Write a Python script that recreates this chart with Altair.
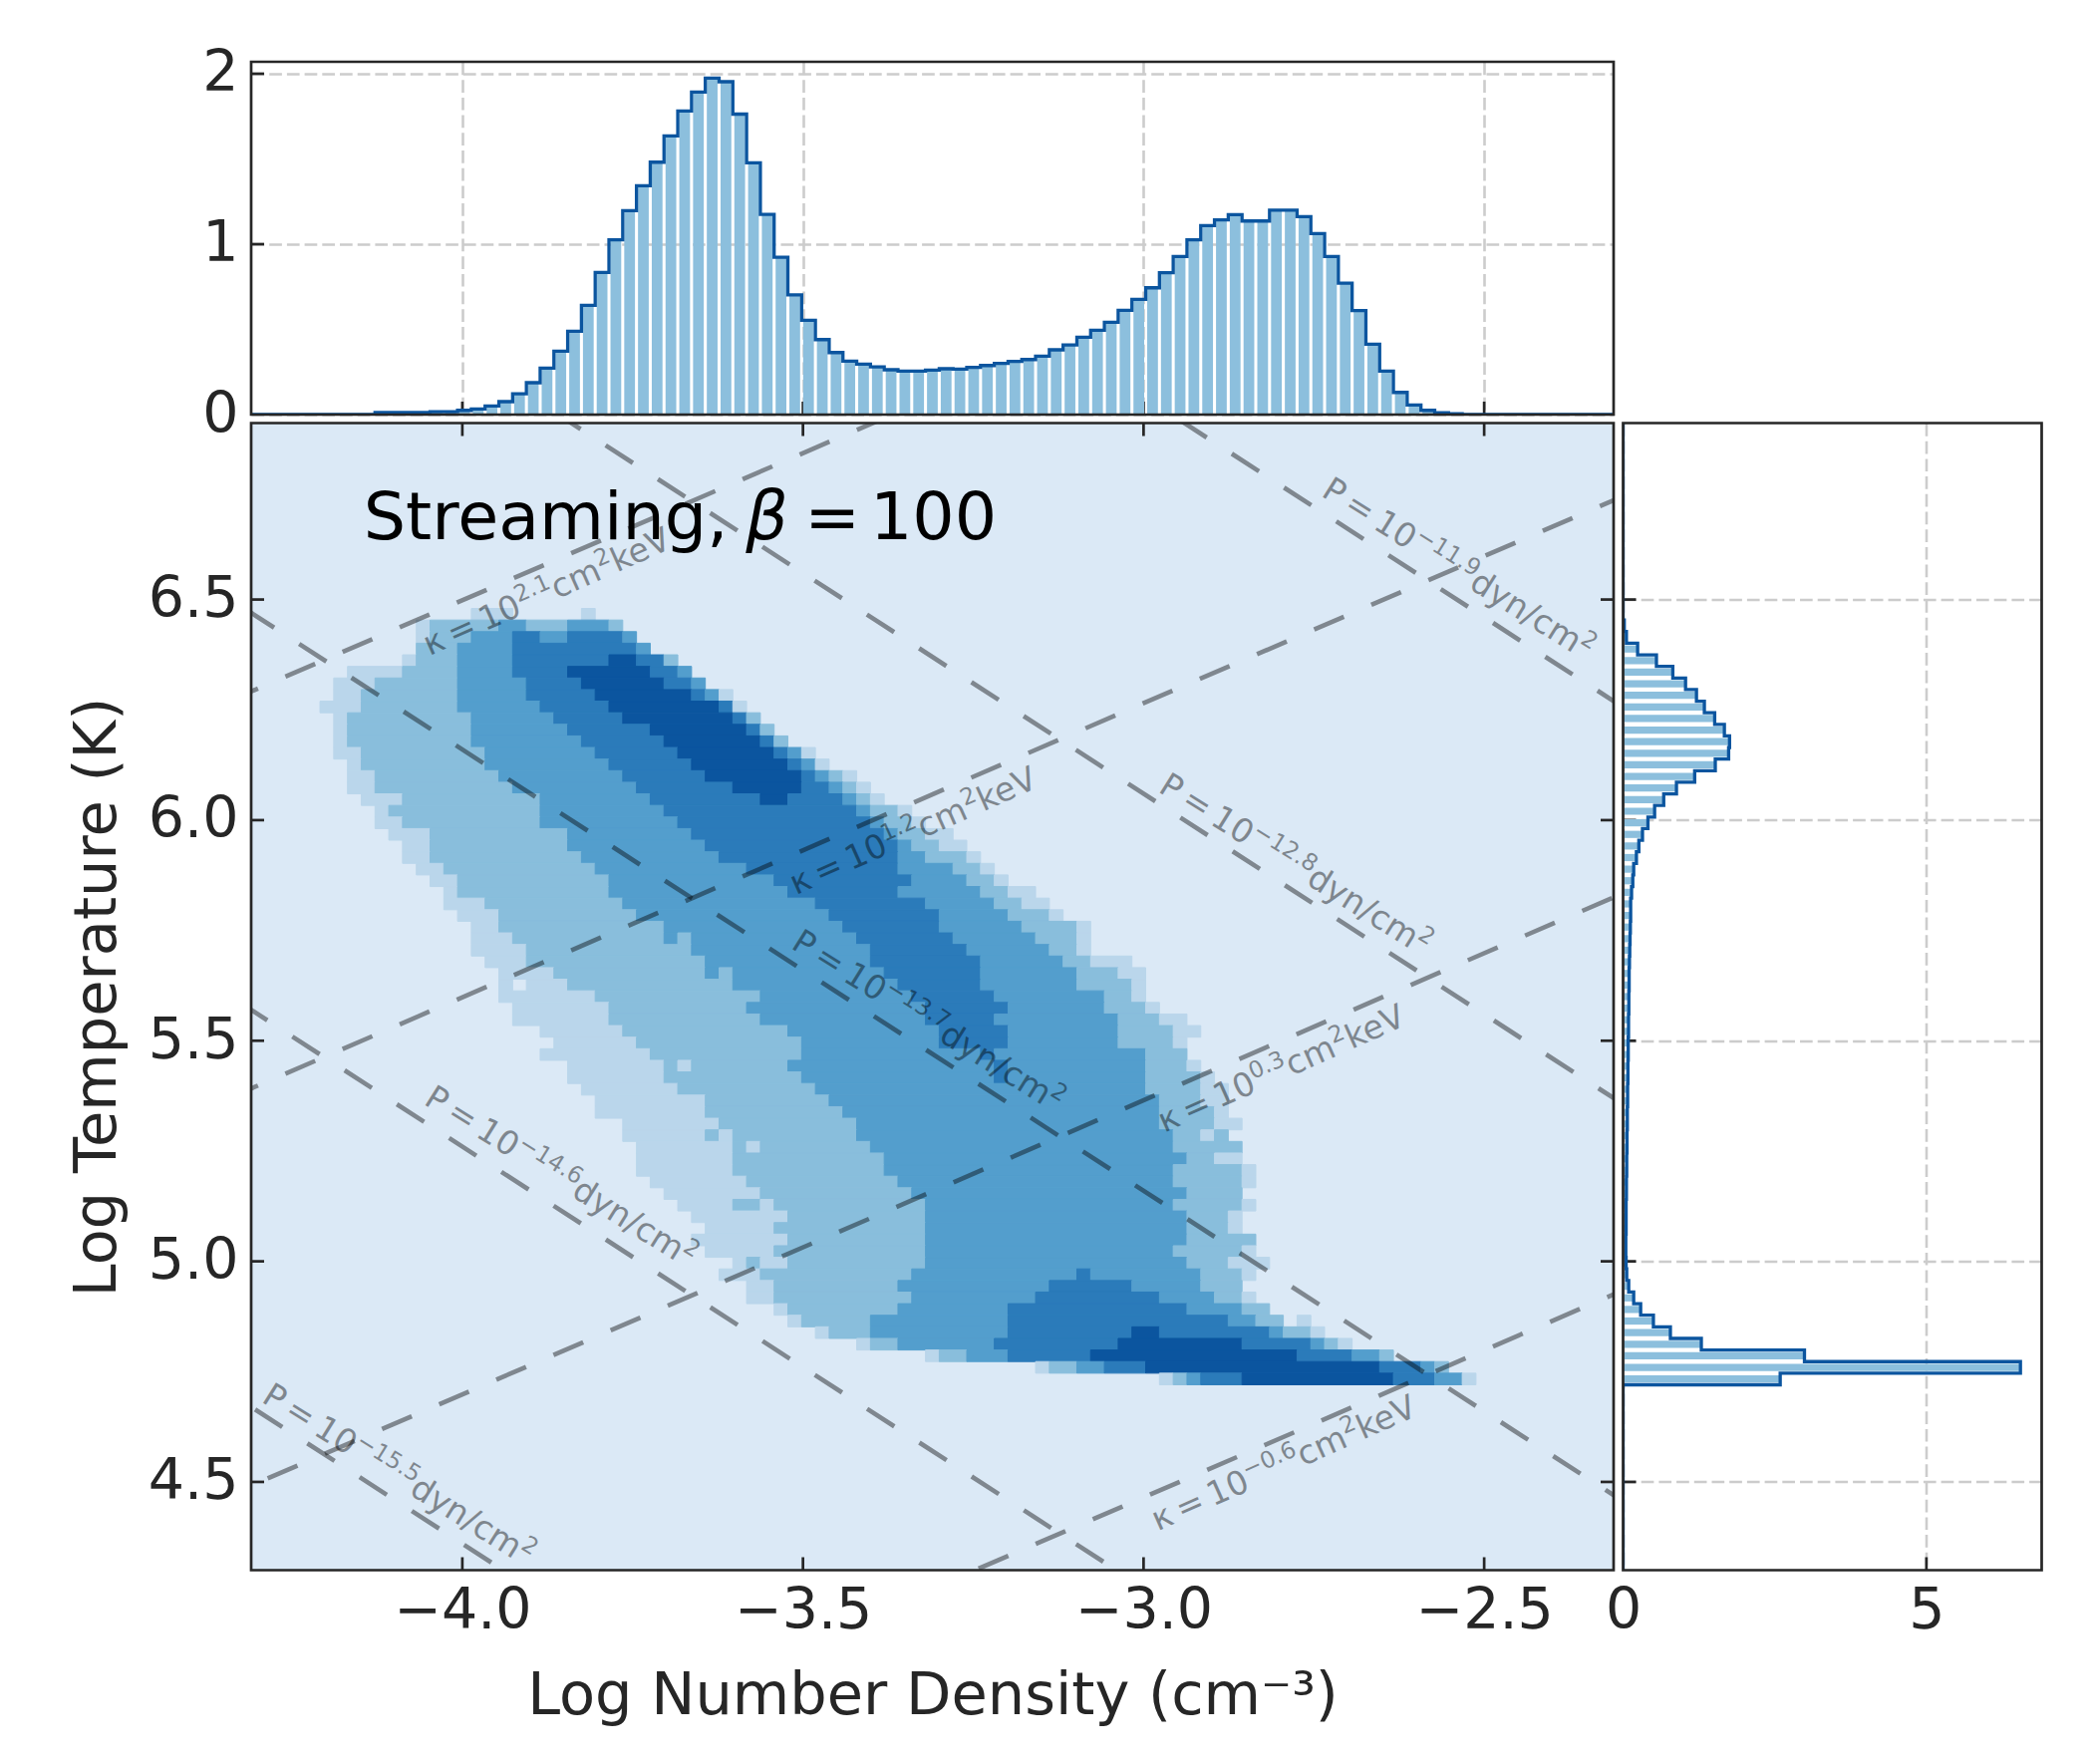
import altair as alt
import pandas as pd
import math

# ---- axis limits (log n, log T), histogram bins = 99 cells per axis
x_lim = [-4.31, -2.31]
y_lim = [4.30, 6.90]
n_bins = 99
level_colors = ["#dbe9f6", "#bad6eb", "#89bedc", "#539ecd", "#2b7bba", "#0b559f"]

# ---- 2D histogram, colour levels per row: row -> (first column, level) transitions
phase_rows = {
    16: [(16,1),(19,0),(24,1),(25,0)],
    17: [(12,1),(13,2),(18,3),(20,2),(23,3),(26,2),(27,0)],
    18: [(12,1),(13,2),(16,3),(19,4),(21,3),(23,4),(27,3),(28,0)],
    19: [(12,2),(15,3),(19,4),(28,3),(29,0)],
    20: [(11,1),(12,2),(15,3),(19,4),(26,5),(28,4),(30,2),(31,0)],
    21: [(7,1),(11,2),(15,3),(19,4),(23,5),(29,4),(31,3),(32,0)],
    22: [(6,1),(9,2),(15,3),(20,4),(24,5),(30,4),(32,3),(33,0)],
    23: [(6,1),(8,2),(15,3),(20,4),(25,5),(32,4),(33,3),(34,1),(35,0)],
    24: [(5,1),(8,2),(15,3),(21,4),(26,5),(34,4),(35,1),(36,0)],
    25: [(6,1),(7,2),(16,3),(22,4),(27,5),(35,4),(36,2),(37,0)],
    26: [(6,1),(7,2),(16,3),(23,4),(29,5),(36,4),(37,2),(38,0)],
    27: [(6,1),(7,2),(16,3),(24,4),(30,5),(37,4),(38,2),(39,0)],
    28: [(6,1),(8,2),(17,3),(25,4),(31,5),(38,4),(39,3),(40,1),(41,0)],
    29: [(7,1),(8,2),(17,3),(26,4),(32,5),(39,4),(40,3),(41,1),(42,0)],
    30: [(7,1),(9,2),(18,3),(27,4),(33,5),(40,4),(41,3),(42,2),(43,1),(44,0)],
    31: [(7,1),(9,2),(19,3),(28,4),(35,5),(40,4),(42,3),(43,2),(44,1),(45,0)],
    32: [(8,1),(11,2),(21,3),(29,4),(37,5),(39,4),(43,3),(44,2),(45,1),(46,0)],
    33: [(9,1),(10,2),(21,3),(30,4),(44,3),(45,2),(47,1),(48,0)],
    34: [(9,1),(11,2),(21,3),(31,4),(45,3),(46,2),(48,1),(49,0)],
    35: [(10,1),(13,2),(23,3),(32,4),(46,3),(47,2),(49,1),(51,0)],
    36: [(11,1),(13,2),(23,3),(33,4),(47,3),(48,2),(50,1),(52,0)],
    37: [(11,1),(13,2),(24,3),(34,4),(47,3),(49,2),(52,1),(53,0)],
    38: [(12,1),(14,2),(25,3),(36,4),(47,3),(51,2),(53,1),(54,0)],
    39: [(13,1),(15,2),(26,3),(38,4),(48,3),(52,2),(54,1),(55,0)],
    40: [(14,1),(15,2),(26,3),(39,4),(47,3),(53,2),(55,1),(57,0)],
    41: [(14,1),(17,2),(27,3),(41,4),(49,3),(54,2),(56,1),(58,0)],
    42: [(15,1),(18,2),(28,3),(42,4),(50,3),(55,2),(58,1),(59,0)],
    43: [(16,1),(18,2),(30,3),(43,4),(50,3),(56,2),(60,1),(61,0)],
    44: [(16,1),(19,2),(30,3),(31,2),(32,3),(44,4),(51,3),(57,2),(60,1),(61,0)],
    45: [(16,1),(20,2),(32,3),(45,4),(52,3),(58,2),(60,1),(61,0)],
    46: [(17,1),(20,2),(33,3),(45,4),(53,3),(59,2),(61,1),(64,0)],
    47: [(18,1),(22,2),(33,3),(34,2),(35,3),(46,4),(53,3),(60,2),(63,1),(65,0)],
    48: [(18,1),(19,0),(20,1),(23,2),(35,3),(47,4),(53,3),(60,2),(64,1),(65,0)],
    49: [(18,1),(25,2),(37,3),(48,4),(54,3),(62,2),(64,1),(65,0)],
    50: [(19,1),(26,2),(36,3),(49,4),(55,3),(62,2),(65,1),(66,0)],
    51: [(19,1),(26,2),(37,3),(49,4),(54,3),(63,2),(66,1),(68,0)],
    52: [(21,1),(27,2),(39,3),(50,4),(55,3),(63,2),(67,1),(69,0)],
    53: [(22,1),(28,2),(40,3),(50,4),(55,3),(63,2),(67,1),(68,0)],
    54: [(21,1),(29,2),(40,3),(53,4),(54,3),(65,2),(68,0)],
    55: [(23,1),(30,2),(31,1),(32,2),(39,3),(54,4),(55,3),(65,2),(68,1),(69,0)],
    56: [(23,1),(30,2),(40,3),(54,4),(55,3),(65,2),(69,1),(70,0)],
    57: [(24,1),(31,2),(41,3),(65,2),(69,1),(71,0)],
    58: [(25,1),(33,2),(42,3),(66,2),(69,1),(71,0)],
    59: [(25,1),(33,2),(43,3),(66,2),(70,1),(71,0)],
    60: [(27,1),(34,2),(44,3),(66,2),(70,1),(72,0)],
    61: [(27,1),(33,2),(34,1),(35,2),(44,3),(67,2),(69,1),(70,2),(71,0)],
    62: [(28,1),(35,2),(36,1),(37,2),(45,3),(67,2),(72,0)],
    63: [(28,1),(35,2),(46,3),(68,2),(70,1),(72,0)],
    64: [(28,1),(35,2),(46,3),(67,2),(72,1),(73,0)],
    65: [(29,1),(36,2),(47,3),(67,2),(72,1),(73,0)],
    66: [(30,1),(37,2),(48,3),(68,2),(72,0)],
    67: [(31,1),(35,2),(37,1),(38,2),(49,3),(67,2),(72,1),(73,0)],
    68: [(32,1),(39,2),(49,3),(68,2),(71,1),(72,0)],
    69: [(33,1),(38,2),(49,3),(68,2),(71,1),(72,0)],
    70: [(32,1),(39,2),(49,3),(68,2),(73,0)],
    71: [(33,1),(38,2),(49,3),(67,2),(72,1),(73,0)],
    72: [(35,1),(36,2),(37,1),(39,2),(49,3),(68,2),(71,1),(74,0)],
    73: [(34,1),(37,2),(48,3),(60,4),(61,3),(69,2),(72,1),(73,0)],
    74: [(36,1),(38,2),(47,3),(58,4),(64,3),(69,2),(72,0)],
    75: [(36,1),(38,2),(48,3),(57,4),(66,3),(70,2),(72,1),(73,0)],
    76: [(38,1),(39,2),(47,3),(55,4),(68,3),(72,2),(74,0)],
    77: [(39,1),(40,2),(45,3),(55,4),(71,3),(73,2),(75,0),(76,1),(77,0)],
    78: [(41,1),(42,2),(45,3),(55,4),(64,5),(66,4),(74,3),(75,2),(77,1),(78,0)],
    79: [(44,1),(45,2),(47,3),(54,4),(63,5),(72,4),(77,3),(78,2),(79,1),(80,0)],
    80: [(49,1),(50,2),(52,3),(55,4),(61,5),(76,4),(80,3),(82,2),(83,0)],
    81: [(57,1),(58,2),(60,3),(62,4),(65,5),(82,4),(85,3),(86,2),(87,0)],
    82: [(66,1),(67,2),(68,3),(69,4),(72,5),(83,4),(86,3),(88,1),(89,0)],
}

# ---- density PDF over log n, one value per x bin (top panel)
pdf_n = [0.0,0.0,0.0,0.0,0.0,0.0,0.0,0.0,0.0,0.012,0.012,0.012,0.012,0.017,0.017,0.025,0.033,0.05,0.076,0.122,
         0.187,0.273,0.372,0.489,0.641,0.834,1.025,1.197,1.343,1.481,1.635,1.781,1.892,1.974,1.953,1.763,1.477,1.175,0.923,0.703,
         0.553,0.44,0.364,0.314,0.296,0.28,0.263,0.255,0.255,0.261,0.269,0.267,0.277,0.288,0.30,0.312,0.323,0.343,0.38,0.409,
         0.454,0.495,0.542,0.612,0.676,0.744,0.832,0.928,1.025,1.109,1.142,1.173,1.136,1.136,1.2,1.2,1.161,1.062,0.928,0.771,
         0.61,0.413,0.255,0.13,0.056,0.025,0.011,0.005,0.0,0.0,0.0,0.0,0.0,0.0,0.0,0.0,0.0,0.0,0.0]

# ---- temperature PDF: row (from the top) -> value (right panel)
pdf_T = [0.0]*17 + [0.02,0.055,0.24,0.55,0.82,1.03,1.21,1.34,1.51,1.67,1.755,1.74,1.52,1.18,0.88,0.67,0.52,0.41,0.32,
         0.26,0.22,0.175,0.16,0.14,0.125,0.125,0.12,0.115,0.11,0.105,0.10,0.10,0.095,0.095,0.09,0.09,0.085,0.085,0.08,0.08,
         0.075,0.075,0.07,0.07,0.065,0.065,0.06,0.06,0.055,0.055,0.05,0.05,0.05,0.045,0.045,0.05,0.06,0.093,0.175,0.29,0.5,
         0.78,1.29,2.99,6.55,2.59] + [0.0]*16

# ---- reference lines: line exponents, and where a dash of each starts (log n)
kappa_exp = [2.1, 1.2, 0.3, -0.6]
kappa_dash_n = [-4.1758, -4.1758, -3.7823, -2.6549]
press_exp = [-11.9, -12.8, -13.7, -14.6, -15.5]
press_dash_n = [-3.1006, -2.9459, -4.1628, -3.6359, -4.1508]

# ---- rotated labels: start of the baseline (log n, log T), pieces
kappa_labels = [("2.1", -4.0483, 6.372), ("1.2", -3.5106, 5.830), ("0.3", -2.970, 5.291), ("−0.6", -2.9795, 4.388)]
press_labels = [("−11.9", -2.741, 6.736), ("−12.8", -2.980, 6.066), ("−13.7", -3.5193, 5.711), ("−14.6", -4.0584, 5.358), ("−15.5", -4.2965, 4.683)]
note_text = ["Streaming,", "β", "=", "100"]
note_n = [-4.145, -3.584, -3.4978, -3.4016]
note_style = ["normal", "italic", "normal", "normal"]

W_MAIN, H_MAIN = 1367, 1151
H_TOP, W_RIGHT = 354, 420
TICK = 13
INK = "#262626"
FONT = "DejaVu Sans"
binw = (x_lim[1] - x_lim[0]) / n_bins
binh = (y_lim[1] - y_lim[0]) / n_bins

# build the tables
cells = []
for r, runs in phase_rows.items():
    for (c0, lvl), (c1, _) in zip(runs[:-1], runs[1:]):
        if lvl > 0:
            cells.append(dict(x0=x_lim[0] + c0 * binw, x1=x_lim[0] + c1 * binw,
                              y0=y_lim[1] - r * binh, y1=y_lim[1] - (r + 1) * binh, level=lvl))
cells = pd.DataFrame(cells)

x_bars = pd.DataFrame([dict(x0=x_lim[0] + (i + .11) * binw, x1=x_lim[0] + (i + .89) * binw, v=v, b=0.0)
                       for i, v in enumerate(pdf_n) if v > 0])
stair_x = []
for i, v in enumerate(pdf_n):
    stair_x += [dict(x=x_lim[0] + i * binw, v=v), dict(x=x_lim[0] + (i + 1) * binw, v=v)]
stair_x = pd.DataFrame(stair_x).reset_index().rename(columns={"index": "i"})

y_bars = pd.DataFrame([dict(y0=y_lim[1] - (i + .19) * binh, y1=y_lim[1] - (i + .81) * binh, v=v, b=0.0)
                       for i, v in enumerate(pdf_T) if v > 0])
stair_y = []
for i, v in enumerate(pdf_T):
    stair_y += [dict(y=y_lim[1] - i * binh, v=v), dict(y=y_lim[1] - (i + 1) * binh, v=v)]
stair_y = pd.DataFrame(stair_y).reset_index().rename(columns={"index": "i"})

PX_X = W_MAIN / (x_lim[1] - x_lim[0])
PX_Y = H_MAIN / (y_lim[1] - y_lim[0])
PERIOD = 62.46
guide = []
for k, (e, d) in enumerate(zip(kappa_exp, kappa_dash_n)):
    c = e + 7.065
    step = PERIOD * math.cos(math.atan(2 / 3 * PX_Y / PX_X)) / PX_X
    for j, n in enumerate([d - 30 * step, d + 30 * step]):
        guide.append(dict(line=f"k{k}", j=j, n=n, T=c + 2 / 3 * n))
for k, (e, d) in enumerate(zip(press_exp, press_dash_n)):
    c = e + 15.86
    step = PERIOD * math.cos(math.atan(PX_Y / PX_X)) / PX_X
    for j, n in enumerate([d - 30 * step, d + 30 * step]):
        guide.append(dict(line=f"p{k}", j=j, n=n, T=c - n))
guide = pd.DataFrame(guide)

FS = 33.3
def pieces(n, T, angle_deg, parts):
    a = math.radians(angle_deg)
    out, along = [], 0.0
    for text, scale, raise_em, width_em in parts:
        px = along * math.cos(a) + raise_em * FS * math.sin(a)
        py = along * math.sin(a) - raise_em * FS * math.cos(a)
        out.append(dict(n=n + px / PX_X, T=T - py / PX_Y, text=text, size=FS * scale, angle=angle_deg % 360))
        along += width_em * FS
    return out

def sup_w(s):
    return sum(.838 if ch == "−" else .318 if ch == "." else .636 for ch in s) * .7

label_rows = []
for e, n, T in kappa_labels:
    label_rows += pieces(n, T, -24, [("κ\u2009=\u200910", 1, 0, 3.1), (e, .7, .38, sup_w(e)), ("cm", 1, 0, 1.524),
                                     ("2", .7, .38, .445), ("keV", 1, 0, 1.878)])
for e, n, T in press_labels:
    label_rows += pieces(n, T, 32, [("P\u2009=\u200910", 1, 0, 3.11), (e, .7, .38, sup_w(e)), ("dyn/cm", 1, 0, 3.72),
                                    ("2", .7, .38, .445)])
label_rows = pd.DataFrame(label_rows)

one = pd.DataFrame({"a": [1]})
x_scale = alt.Scale(domain=x_lim, nice=False, zero=False)
y_scale = alt.Scale(domain=y_lim, nice=False, zero=False)
v_scale = alt.Scale(domain=[0, 2.07], nice=False, zero=False)
t_scale = alt.Scale(domain=[0, 6.9], nice=False, zero=False)
x_ticks = [-4.0, -3.5, -3.0, -2.5]
y_ticks = [4.5, 5.0, 5.5, 6.0, 6.5]
GRID = dict(grid=True, gridColor="#cccccc", gridDash=[12.7, 5], gridWidth=2.6)
TXT = dict(labelFont=FONT, labelFontSize=57, labelColor=INK, titleFont=FONT, titleFontSize=59,
           titleColor=INK, titleFontWeight="normal", ticks=False, domain=False,
           labelFlush=False, labelOverlap=False)

top_xaxis = alt.Axis(values=x_ticks, labels=False, title=None, ticks=False, domain=False, **GRID)
top_yaxis = alt.Axis(values=[0, 1, 2], tickCount=12, tickMinStep=0.1, format=".0f", title=None, labelPadding=13, **GRID, **TXT)
main_xaxis = alt.Axis(values=x_ticks, format=".1f", title="Log Number Density (cm⁻³)", labelPadding=13,
                      titlePadding=28, grid=False, **TXT)
main_yaxis = alt.Axis(values=y_ticks, format=".1f", title="Log Temperature (K)", labelPadding=13,
                      titlePadding=21, grid=False, **TXT)
right_xaxis = alt.Axis(values=[0, 5], format="d", title=None, labelPadding=13, **GRID, **TXT)
right_yaxis = alt.Axis(values=y_ticks, labels=False, title=None, ticks=False, domain=False, **GRID)


def frame(w, h):
    return alt.Chart(one).mark_rect(filled=False, stroke=INK, strokeWidth=2.7).encode(
        x=alt.value(0), x2=alt.value(w), y=alt.value(0), y2=alt.value(h))


def vtick(values, scale, axis, y0, y1):
    d = pd.DataFrame({"v": values})
    return alt.Chart(d).mark_rule(color=INK, strokeWidth=2.7).encode(
        x=alt.X("v:Q", scale=scale, axis=axis), y=alt.value(y0), y2=alt.value(y1))


def htick(values, scale, axis, x0, x1):
    d = pd.DataFrame({"v": values})
    return alt.Chart(d).mark_rule(color=INK, strokeWidth=2.7).encode(
        y=alt.Y("v:Q", scale=scale, axis=axis), x=alt.value(x0), x2=alt.value(x1))


# ---- top panel
top = alt.layer(
    vtick(x_ticks, x_scale, top_xaxis, H_TOP - TICK, H_TOP),
    htick([1, 2], v_scale, top_yaxis, 0, TICK),
    alt.Chart(x_bars).mark_rect(color="#8cbfdd").encode(
        x=alt.X("x0:Q", scale=x_scale, axis=top_xaxis), x2="x1:Q",
        y=alt.Y("v:Q", scale=v_scale, axis=top_yaxis), y2="b:Q"),
    alt.Chart(stair_x).mark_line(color="#0b559f", strokeWidth=3.3, strokeJoin="miter", clip=True).encode(
        x=alt.X("x:Q", scale=x_scale, axis=top_xaxis), y=alt.Y("v:Q", scale=v_scale, axis=top_yaxis), order="i:Q"),
    frame(W_MAIN, H_TOP),
).properties(width=W_MAIN, height=H_TOP)

# ---- empty corner
corner = alt.Chart(one).mark_point(opacity=0).encode(
    x=alt.value(0), y=alt.value(0)).properties(width=W_RIGHT, height=H_TOP)

# ---- main panel
mesh = alt.Chart(cells).mark_rect(strokeWidth=1).encode(
    x=alt.X("x0:Q", scale=x_scale, axis=main_xaxis),
    x2="x1:Q",
    y=alt.Y("y0:Q", scale=y_scale, axis=main_yaxis),
    y2="y1:Q",
    fill=alt.Fill("level:O", scale=alt.Scale(domain=[1, 2, 3, 4, 5], range=level_colors[1:]), legend=None),
    stroke=alt.Stroke("level:O", scale=alt.Scale(domain=[1, 2, 3, 4, 5], range=level_colors[1:]), legend=None),
)
lines = alt.Chart(guide).mark_line(color="#000000", opacity=0.42, strokeWidth=4.6, strokeDash=[32.5, 29.96],
                                   clip=True).encode(
    x=alt.X("n:Q", scale=x_scale, axis=main_xaxis), y=alt.Y("T:Q", scale=y_scale, axis=main_yaxis),
    detail="line:N", order="j:Q")
labels = alt.Chart(label_rows).mark_text(font=FONT, align="left", baseline="alphabetic", color="#000000",
                                         opacity=0.42).encode(
    x=alt.X("n:Q", scale=x_scale, axis=main_xaxis), y=alt.Y("T:Q", scale=y_scale, axis=main_yaxis),
    text="text:N", size=alt.Size("size:Q", scale=None), angle=alt.Angle("angle:Q", scale=None))
notes = [
    alt.Chart(pd.DataFrame({"n": [n], "T": [6.636], "t": [t]})).mark_text(
        font=FONT, fontSize=66.7, fontStyle=st, align="left", baseline="alphabetic", color="#000000").encode(
        x=alt.X("n:Q", scale=x_scale, axis=main_xaxis), y=alt.Y("T:Q", scale=y_scale, axis=main_yaxis), text="t:N")
    for t, n, st in zip(note_text, note_n, note_style)
]
bg = alt.Chart(one).mark_rect(color=level_colors[0]).encode(
    x=alt.value(0), x2=alt.value(W_MAIN), y=alt.value(0), y2=alt.value(H_MAIN))
main = alt.layer(
    bg, mesh, lines, labels, *notes,
    vtick(x_ticks, x_scale, main_xaxis, H_MAIN - TICK, H_MAIN),
    vtick(x_ticks, x_scale, main_xaxis, 0, TICK),
    htick(y_ticks, y_scale, main_yaxis, 0, TICK),
    htick(y_ticks, y_scale, main_yaxis, W_MAIN - TICK, W_MAIN),
    frame(W_MAIN, H_MAIN),
).properties(width=W_MAIN, height=H_MAIN)

# ---- right panel
right = alt.layer(
    vtick([5], t_scale, right_xaxis, H_MAIN - TICK, H_MAIN),
    htick(y_ticks, y_scale, right_yaxis, 0, TICK),
    alt.Chart(y_bars).mark_rect(color="#8cbfdd").encode(
        x=alt.X("b:Q", scale=t_scale, axis=right_xaxis), x2="v:Q",
        y=alt.Y("y0:Q", scale=y_scale, axis=right_yaxis), y2="y1:Q"),
    alt.Chart(stair_y).mark_line(color="#0b559f", strokeWidth=3.3, strokeJoin="miter", clip=True).encode(
        x=alt.X("v:Q", scale=t_scale, axis=right_xaxis), y=alt.Y("y:Q", scale=y_scale, axis=right_yaxis), order="i:Q"),
    frame(W_RIGHT, H_MAIN),
).properties(width=W_RIGHT, height=H_MAIN)

chart = alt.concat(top, corner, main, right, columns=2, bounds="flush",
                   spacing=alt.RowColnumber(row=8.5, column=9.5)).configure_view(
    stroke=None
).properties(padding={"left": 60, "top": 36, "right": 5, "bottom": 5}, background="white")

chart.save("out.html", embed_options={"renderer": "svg", "actions": False})
